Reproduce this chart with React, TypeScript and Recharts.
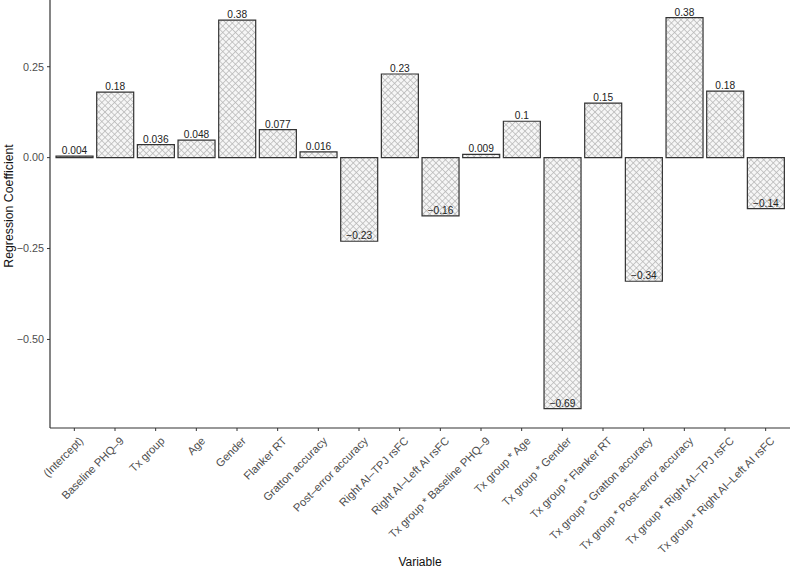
import React from "react";
import { BarChart, Bar, XAxis, YAxis, LabelList, Label } from "recharts";

const categories = [
  "(Intercept)",
  "Baseline PHQ–9",
  "Tx group",
  "Age",
  "Gender",
  "Flanker RT",
  "Gratton accuracy",
  "Post–error accuracy",
  "Right AI–TPJ rsFC",
  "Right AI–Left AI rsFC",
  "Tx group * Baseline PHQ–9",
  "Tx group * Age",
  "Tx group * Gender",
  "Tx group * Flanker RT",
  "Tx group * Gratton accuracy",
  "Tx group * Post–error accuracy",
  "Tx group * Right AI–TPJ rsFC",
  "Tx group * Right AI–Left AI rsFC",
];

const coefficients = [
  0.004, 0.18, 0.036, 0.048, 0.378, 0.077, 0.016, -0.23, 0.23, -0.16, 0.009,
  0.1, -0.69, 0.15, -0.34, 0.385, 0.183, -0.14,
];

const valueLabels = [
  "0.004", "0.18", "0.036", "0.048", "0.38", "0.077", "0.016", "−0.23", "0.23",
  "−0.16", "0.009", "0.1", "−0.69", "0.15", "−0.34", "0.38", "0.18", "−0.14",
];

const yTicks = [-0.5, -0.25, 0, 0.25];

const data = categories.map((c, i) => ({
  name: c,
  value: coefficients[i],
  label: valueLabels[i],
}));

const FONT = "'Liberation Sans', Arial, Helvetica, sans-serif";

const fmtY = (v: number) => {
  const s = Math.abs(v).toFixed(2);
  return v < 0 ? "−" + s : s;
};

const XTick = (props: any) => {
  const { x, y, payload } = props;
  return (
    <text
      transform={`translate(${x + 4},${y + 3}) rotate(-45)`}
      textAnchor="end"
      dy="0.71em"
      fontSize={11.2}
      fill="#4d4d4d"
      fontFamily={FONT}
    >
      {payload.value}
    </text>
  );
};

const ValueLabel = (props: any) => {
  const { x, y, width, height, index } = props;
  const v = coefficients[index];
  const top = Math.min(y, y + height);
  const bottom = Math.max(y, y + height);
  const end = v >= 0 ? top : bottom;
  return (
    <text
      x={x + width / 2}
      y={end - 2}
      textAnchor="middle"
      fontSize={10.2}
      fill="#222"
      fontFamily={FONT}
    >
      {valueLabels[index]}
    </text>
  );
};

const YTitle = () => (
  <text
    transform="translate(13,206) rotate(-90)"
    textAnchor="middle"
    fontSize={12.3}
    fill="#111"
    fontFamily={FONT}
  >
    Regression Coefficient
  </text>
);

const XTitle = () => (
  <text
    x={420}
    y={566}
    textAnchor="middle"
    fontSize={12}
    fill="#111"
    fontFamily={FONT}
  >
    Variable
  </text>
);

export default function App() {
  return (
    <div
      style={{
        position: "fixed",
        top: 0,
        left: 0,
        background: "#fff",
        width: 790,
        height: 572,
      }}
    >
      <BarChart
        width={790}
        height={572}
        data={data}
        margin={{ top: 0, right: 0, bottom: 0, left: 0 }}
        barCategoryGap="5%"
      >
        <defs>
          <pattern
            id="hatch"
            width="4.5"
            height="4.5"
            patternUnits="userSpaceOnUse"
            patternTransform="rotate(45)"
          >
            <rect width="4.5" height="4.5" fill="#f6f6f6" />
            <line x1="0" y1="0" x2="0" y2="4.5" stroke="#b5b5b5" strokeWidth="1.4" />
            <line x1="0" y1="0" x2="4.5" y2="0" stroke="#b5b5b5" strokeWidth="1.4" />
          </pattern>
        </defs>
        <XAxis
          dataKey="name"
          interval={0}
          height={144}
          padding={{ left: 4, right: 4 }}
          tick={<XTick />}
          tickSize={3}
          tickLine={{ stroke: "#333" }}
          axisLine={{ stroke: "#333", strokeWidth: 1.2 }}
        >
          <Label content={<XTitle />} />
        </XAxis>
        <YAxis
          type="number"
          domain={[-0.7435, 0.4335]}
          ticks={yTicks}
          width={50}
          tickFormatter={fmtY}
          tickSize={3}
          tickMargin={3}
          tick={{ fontSize: 10.8, fill: "#4d4d4d", fontFamily: FONT }}
          tickLine={{ stroke: "#333" }}
          axisLine={{ stroke: "#333", strokeWidth: 1.2 }}
          allowDataOverflow
        >
          <Label content={<YTitle />} />
        </YAxis>
        <Bar
          dataKey="value"
          fill="url(#hatch)"
          stroke="#333"
          strokeWidth={1.2}
          isAnimationActive={false}
        >
          <LabelList dataKey="label" content={<ValueLabel />} />
        </Bar>
      </BarChart>
    </div>
  );
}
